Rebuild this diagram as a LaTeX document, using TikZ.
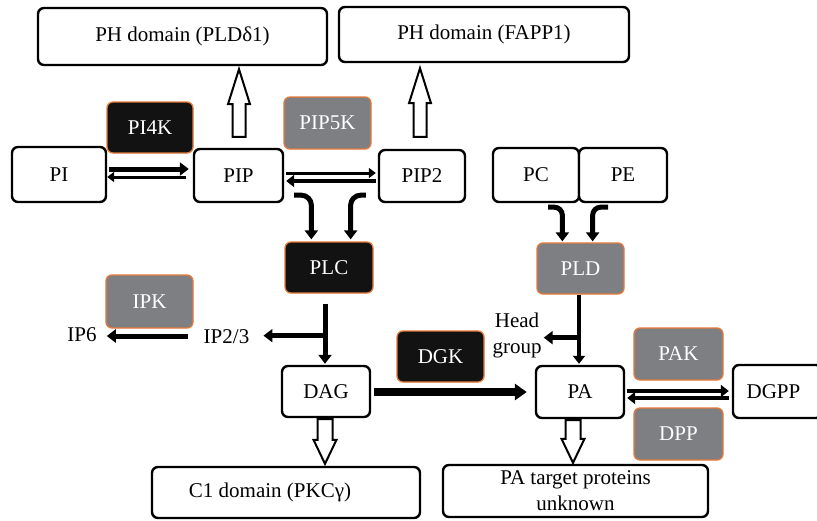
\documentclass[tikz,border=0pt]{standalone}
\usepackage{fontspec}
\setmainfont{Liberation Serif}
\usetikzlibrary{arrows.meta,calc}
\definecolor{orng}{HTML}{E5793A}
\definecolor{enzgray}{HTML}{7E7F83}
\definecolor{enzblack}{HTML}{121212}
\newcommand\fs{\fontsize{21}{26}\selectfont}
\newcommand\hollowup[2]{\draw[hollow] let \p1=#1, \p2=#2 in
  (\x1-6.5pt,\y1) -- (\x1-6.5pt,\y2-35pt) -- (\x1-11pt,\y2-35pt) -- (\x1,\y2)
  -- (\x1+11pt,\y2-35pt) -- (\x1+6.5pt,\y2-35pt) -- (\x1+6.5pt,\y1) -- cycle;}
\newcommand\hollowdown[2]{\draw[hollow] let \p1=#1, \p2=#2 in
  (\x1-7.5pt,\y1) -- (\x1-7.5pt,\y2+24pt) -- (\x1-11.5pt,\y2+24pt) -- (\x1,\y2)
  -- (\x1+11.5pt,\y2+24pt) -- (\x1+7.5pt,\y2+24pt) -- (\x1+7.5pt,\y1) -- cycle;}
\tikzset{
  sub/.style={draw=black, line width=2.4pt, rounded corners=6pt, fill=white, font=\fs, inner sep=0pt, align=center},
  enz/.style={draw=orng, line width=1.3pt, rounded corners=6pt, text=white, font=\fs, inner sep=0pt},
  lbl/.style={font=\fs, inner sep=2pt, align=center},
  fat/.style={line width=5pt, -{Triangle[length=9pt,width=13pt]}},
  med/.style={line width=4pt, -{Triangle[length=8pt,width=12pt]}},
  slim/.style={line width=3pt, -{Triangle[length=7pt,width=10pt]}},
  huge/.style={line width=7.5pt, -{Triangle[length=12pt,width=16pt]}},
  hollow/.style={draw=black, line width=2pt, fill=white, line join=miter},
}
\begin{document}
\begin{tikzpicture}[x=1pt,y=-1pt]
\fill[white] (0,0) rectangle (817,520);
\useasboundingbox (0,0) rectangle (817,520);
% substance boxes
\node[sub, minimum width=289pt, minimum height=57pt] (ph1) at (182.5,36.5) {PH domain (PLDδ1)};
\node[sub, minimum width=290pt, minimum height=55pt] (ph2) at (484,34.5) {PH domain (FAPP1)};
\node[sub, minimum width=94pt, minimum height=55pt] (pi) at (59,174.5) {PI};
\node[sub, minimum width=89pt, minimum height=53pt] (pip) at (238.5,175.5) {PIP};
\node[sub, minimum width=86pt, minimum height=52pt] (pip2) at (422,176) {PIP2};
\node[sub, minimum width=86pt, minimum height=54pt] (pc) at (536,175) {PC};
\node[sub, minimum width=88pt, minimum height=54pt] (pe) at (623,175) {PE};
\node[sub, minimum width=88pt, minimum height=51pt] (dag) at (326,391.5) {DAG};
\node[sub, minimum width=88pt, minimum height=52pt] (pa) at (580,392) {PA};
\node[sub, minimum width=89pt, minimum height=53pt] (dgpp) at (777.5,391.5) {DGPP\hspace{8pt}};
\node[sub, minimum width=268pt, minimum height=51pt] (c1) at (286,492.5) {C1 domain (PKCγ)\hspace{32pt}};
\node[sub, minimum width=265pt, minimum height=52pt] (pat) at (575.5,491) {PA target proteins\\unknown};
% enzymes
\node[enz, fill=enzblack, minimum width=86pt, minimum height=51pt] (pi4k) at (150,127.5) {PI4K};
\node[enz, fill=enzgray, minimum width=87pt, minimum height=52pt] (pip5k) at (327.5,123) {PIP5K};
\node[enz, fill=enzblack, minimum width=88pt, minimum height=51pt] (plc) at (329,267.5) {PLC};
\node[enz, fill=enzgray, minimum width=87pt, minimum height=53pt] (ipk) at (149.5,301.5) {IPK};
\node[enz, fill=enzgray, minimum width=87pt, minimum height=51pt] (pld) at (580.5,268.5) {PLD};
\node[enz, fill=enzblack, minimum width=87pt, minimum height=51pt] (dgk) at (440.5,356.5) {DGK};
\node[enz, fill=enzgray, minimum width=89pt, minimum height=52pt] (pak) at (678.5,354) {PAK};
\node[enz, fill=enzgray, minimum width=89pt, minimum height=52pt] (dpp) at (678.5,434) {DPP};
% free labels
\node[lbl] (ip6) at (82,335) {IP6};
\node[lbl] (ip23) at (226.5,337) {IP2/3};
\node[lbl] (hg) at (517,335.5) {Head\\group};
% PI <-> PIP
\draw[fat] ($(pi.east)+(2,-5.5)$) -- ($(pip.west)+(-4,-6.5)$);
\draw[slim] ($(pip.west)+(-7,1.5)$) -- ($(pi.east)+(0,2.5)$);
% PIP <-> PIP2
\draw[slim] ($(pip.east)+(2,-2.5)$) -- ($(pip2.west)+(-2,-3)$);
\draw[med] ($(pip2.west)+(-2,5)$) -- ($(pip.east)+(2,5.5)$);
% PIP, PIP2 -> PLC
\draw[fat, rounded corners=10pt] ($(pip.south east)+(10,-8)$) -| ($(plc.north west)+(27,-2)$);
\draw[fat, rounded corners=10pt] ($(pip2.south west)+(-12,-8)$) -| ($(plc.north east)+(-23,-2)$);
% PLC -> DAG, IP2/3
\draw[fat] ($(plc.south)+(-4,10)$) -- ($(dag.north)+(-1,-1)$);
\coordinate (br1) at ($(plc.south)+(-2,42)$);
\draw[fat] (br1) -- ($(br1 -| ip23.east)+(12,0)$);
\coordinate (s9) at ($(ip23.west)+(-14,-1)$);
\draw[fat] (s9) -- ($(s9 -| ip6.east)+(8,0)$);
% PC, PE -> PLD
\draw[fat, rounded corners=8pt] ($(pc.south)+(12,4)$) -| ($(pld.north west)+(26,-1)$);
\draw[fat, rounded corners=8pt] ($(pe.south)+(-15,4)$) -| ($(pld.north east)+(-32,-1)$);
% PLD -> PA, head group
\draw[med] ($(pld.south)+(-1.5,0)$) -- ($(pa.north)+(-1,-1)$);
\coordinate (br2) at ($(pld.south)+(0,43)$);
\draw[fat] (br2) -- (br2 -| hg.east);
% DAG -> PA
\draw[huge] ($(dag.east)+(3,0.5)$) -- ($(pa.west)+(-8,0)$);
% PA <-> DGPP
\draw[med] ($(pa.east)+(2,-1)$) -- ($(dgpp.west)+(-3,-0.5)$);
\draw[med] ($(dgpp.west)+(-3,6.5)$) -- ($(pa.east)+(2,6)$);
% hollow arrows
\hollowup{($(pip.north)+(0.5,-11)$)}{($(pip.north |- ph1.south)+(0,3)$)}
\hollowup{($(pip2.north)+(-2,-12)$)}{($(pip2.north |- ph2.south)+(0,5)$)}
\hollowdown{($(dag.south)+(-1,1)$)}{($(dag.south |- c1.north)+(0,-2)$)}
\hollowdown{($(pa.south)+(-7,1)$)}{($(pa.south |- pat.north)+(0,-1)$)}
\end{tikzpicture}
\end{document}
